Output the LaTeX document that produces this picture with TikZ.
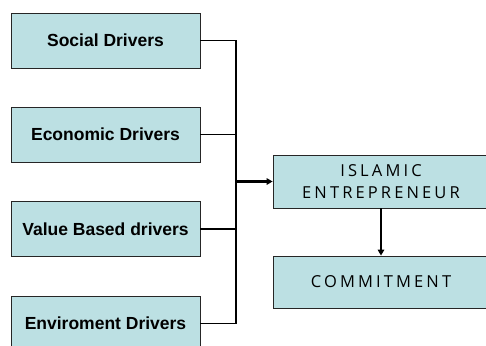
\documentclass[tikz,border=0pt]{standalone}
\usepackage{fontspec}
\setmainfont{Liberation Sans}
\newfontfamily\capsfont[LetterSpace=19]{Open Sans}
\usepackage{tikz}
\usetikzlibrary{arrows.meta}
\definecolor{boxfill}{RGB}{188,224,227}

\begin{document}
\begin{tikzpicture}[x=1pt,y=-1pt,
  driver/.style={draw=black!85,line width=0.8pt,fill=boxfill,minimum width=189pt,minimum height=55pt,inner sep=0pt,font=\fontsize{17.5}{20}\selectfont\bfseries},
  outcome/.style={draw=black!85,line width=0.8pt,fill=boxfill,minimum width=216pt,inner sep=0pt,align=center,font=\capsfont\fontsize{16.5}{22}\selectfont},
  wire/.style={line width=1.8pt},
  feed/.style={line width=2.2pt,-{Triangle[length=6pt,width=6.5pt]}}]
\useasboundingbox (0,0) rectangle (486,345);
% four driver boxes down the left side
\node[driver] (social)   at (105.5,40.5)  {Social Drivers};
\node[driver] (economic) at (105.5,134.5) {Economic Drivers};
\node[driver] (value)    at (105.5,229)   {Value Based drivers};
\node[driver] (enviro)   at (105.5,323.5) {Enviroment Drivers};
% outcome boxes, running off the right edge
\node[outcome,minimum height=53pt] (islamic) at (381,181.5) {ISLAMIC\\ENTREPRENEUR};
\node[outcome,minimum height=52pt] (commit)  at (381,282)   {COMMITMENT};
% collecting bus
\coordinate (bustop) at (236,40.5);
\coordinate (busbot) at (236,323.5);
\draw[wire] (social.east) -- (bustop);
\draw[line width=2.4pt] (bustop) -- (busbot);
\draw[wire] (economic.east) -- (economic.east -| bustop);
\draw[wire] (value.east) -- (value.east -| bustop);
\draw[wire] (enviro.east) -- (busbot);
\draw[feed] (islamic.west -| bustop) -- (islamic.west);
\draw[feed] (islamic.south) -- (commit.north);
\end{tikzpicture}
\end{document}
